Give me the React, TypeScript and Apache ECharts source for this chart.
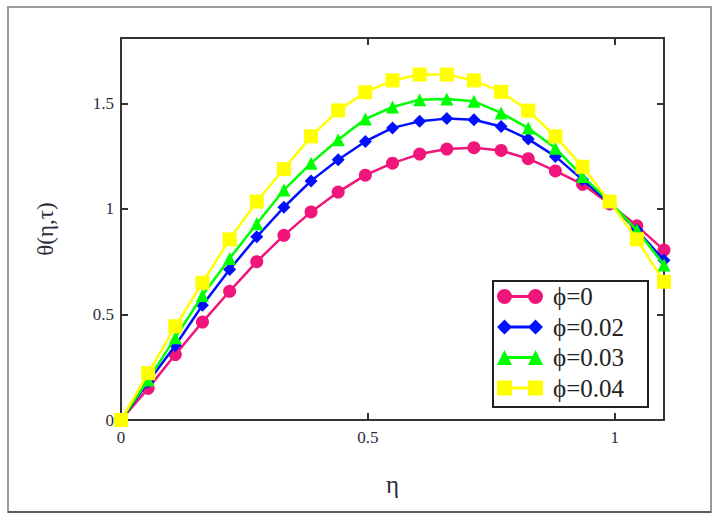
import React, { useEffect, useRef } from 'react';
import * as echarts from 'echarts';

const eta = [0, 0.055, 0.11, 0.165, 0.22, 0.275, 0.33, 0.385, 0.44, 0.495, 0.55, 0.605, 0.66, 0.715, 0.77, 0.825, 0.88, 0.935, 0.99, 1.045, 1.1];

const phi0 = [0, 0.15, 0.31, 0.464, 0.61, 0.75, 0.875, 0.986, 1.08, 1.16, 1.217, 1.26, 1.284, 1.29, 1.277, 1.238, 1.18, 1.117, 1.024, 0.92, 0.805];
const phi002 = [0, 0.18, 0.353, 0.544, 0.713, 0.868, 1.008, 1.133, 1.233, 1.32, 1.384, 1.415, 1.428, 1.423, 1.391, 1.331, 1.249, 1.138, 1.027, 0.9, 0.757];
const phi003 = [0, 0.19, 0.39, 0.59, 0.765, 0.93, 1.09, 1.217, 1.328, 1.426, 1.483, 1.518, 1.521, 1.51, 1.455, 1.383, 1.288, 1.154, 1.035, 0.9, 0.734];
const phi004 = [0, 0.222, 0.444, 0.65, 0.856, 1.035, 1.189, 1.344, 1.467, 1.553, 1.609, 1.637, 1.637, 1.609, 1.555, 1.466, 1.344, 1.2, 1.035, 0.856, 0.655];

const seriesNames = ['ϕ=0', 'ϕ=0.02', 'ϕ=0.03', 'ϕ=0.04'];
const seriesColors = ['#f0157a', '#0010ff', '#00ff00', '#ffff00'];
const seriesSymbols = ['circle', 'diamond', 'triangle', 'rect'];
const legendIcons = [
  'path://M0,7.5a7.5,7.5 0 1,0 15,0a7.5,7.5 0 1,0 -15,0Z M31,7.5a7.5,7.5 0 1,0 15,0a7.5,7.5 0 1,0 -15,0Z M14,6L14,9L32,9L32,6Z',
  'path://M0,7.5L7.5,15L15,7.5L7.5,0Z M31,7.5L38.5,15L46,7.5L38.5,0Z M12,6L12,9L34,9L34,6Z',
  'path://M0,15L15,15L7.5,0Z M31,15L46,15L38.5,0Z M10,6L10,9L36,9L36,6Z',
  'path://M0,0L0,15L15,15L15,0Z M31,0L31,15L46,15L46,0Z M14,6L14,9L32,9L32,6Z',
];
const seriesData = [phi0, phi002, phi003, phi004];

const xTicks = { min: 0, max: 1.1, interval: 0.5 };
const yTicks = { min: 0, max: 1.81, interval: 0.5 };

const FRAME = '#333333';
const LABEL = '#2c2c3c';
const FONT = '"Liberation Serif", "DejaVu Serif", serif';

export default function App() {
  const ref = useRef<HTMLDivElement>(null);
  useEffect(() => {
    document.body.style.margin = '0';
    if (!ref.current) return;
    const chart = echarts.init(ref.current, null, { renderer: 'svg' });
    const axisLine = { show: true, onZero: false, lineStyle: { color: FRAME, width: 2 } };
    const axisTick = { show: true, inside: true, length: 7, lineStyle: { color: FRAME, width: 2 } };
    const option: any = {
      animation: false,
      backgroundColor: '#ffffff',
      grid: { left: 121, top: 38, right: 57, bottom: 96, containLabel: false },
      graphic: [
        {
          type: 'rect',
          shape: { x: 8, y: 7, width: 703, height: 505 },
          style: { fill: 'none', stroke: '#9a9a9a', lineWidth: 2 },
          silent: true,
        },
        {
          type: 'line',
          shape: { x1: 8, y1: 512, x2: 711, y2: 512 },
          style: { stroke: '#444', lineWidth: 1.5 },
          silent: true,
        },
        {
          type: 'rect',
          shape: { x: 493, y: 281, width: 155, height: 126 },
          style: { fill: 'none', stroke: '#222222', lineWidth: 2 },
          silent: true,
        },
      ],
      xAxis: [
        {
          type: 'value',
          position: 'bottom',
          ...xTicks,
          axisLine,
          axisTick,
          splitLine: { show: false },
          axisLabel: { color: LABEL, fontFamily: FONT, fontSize: 17, margin: 9, showMaxLabel: false },
          name: 'η',
          nameLocation: 'middle',
          nameGap: 52,
          nameTextStyle: { color: LABEL, fontFamily: FONT, fontSize: 25 },
        },
        {
          type: 'value',
          position: 'top',
          ...xTicks,
          axisLine,
          axisTick,
          splitLine: { show: false },
          axisLabel: { show: false },
        },
      ],
      yAxis: [
        {
          type: 'value',
          position: 'left',
          ...yTicks,
          axisLine,
          axisTick,
          splitLine: { show: false },
          axisLabel: { color: LABEL, fontFamily: FONT, fontSize: 17, margin: 7, showMaxLabel: false },
          name: 'θ(η,τ)',
          nameLocation: 'middle',
          nameGap: 64,
          nameRotate: 90,
          nameTextStyle: { color: LABEL, fontFamily: FONT, fontSize: 23 },
        },
        {
          type: 'value',
          position: 'right',
          ...yTicks,
          axisLine,
          axisTick,
          splitLine: { show: false },
          axisLabel: { show: false },
        },
      ],
      legend: {
        orient: 'vertical',
        left: 497,
        top: 284,
        padding: 0,
        itemWidth: 46,
        itemHeight: 15,
        itemGap: 5.5,
        align: 'left',
        textStyle: { color: '#222222', fontFamily: FONT, fontSize: 25, lineHeight: 25, padding: [0, 0, 0, 5] },
        data: seriesNames.map((n, i) => ({ name: n, icon: legendIcons[i] })),
      },
      series: seriesNames.map((name, i) => ({
        name,
        type: 'line',
        xAxisIndex: 0,
        yAxisIndex: 0,
        data: eta.map((x, j) => [x, seriesData[i][j]]),
        symbol: seriesSymbols[i],
        symbolSize: i === 3 ? 14 : 13,
        showSymbol: true,
        color: seriesColors[i],
        lineStyle: { color: seriesColors[i], width: 2.5 },
        itemStyle: { color: seriesColors[i] },
        clip: true,
        z: 2 + i,
      })),
    };
    chart.setOption(option);
    return () => chart.dispose();
  }, []);
  return <div ref={ref} style={{ width: 721, height: 516 }} />;
}
